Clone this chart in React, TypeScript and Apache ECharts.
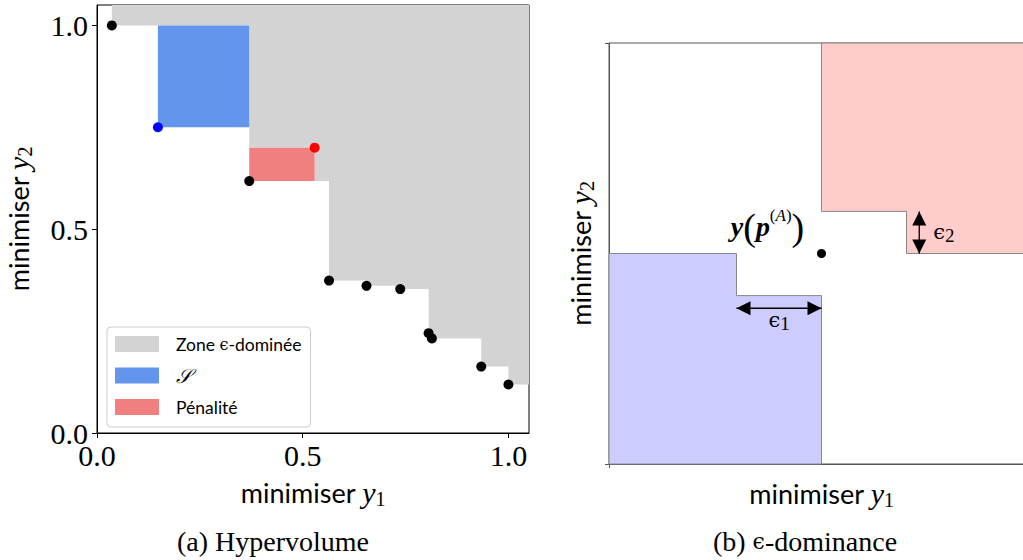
import React, { useEffect, useRef } from 'react';
import * as echarts from 'echarts';

// ---------- (a) Hypervolume ----------
const hvTicks = [0, 0.5, 1.0];
const hvMin = 0;
const hvMax = 1.05;
// corners of the staircase bounding the epsilon-dominated zone
const dominatedCorners: number[][] = [
  [0.036, 1.0], [0.370, 0.700], [0.529, 0.618], [0.564, 0.374], [0.655, 0.361],
  [0.737, 0.353], [0.806, 0.232], [0.934, 0.163], [1.0, 0.119],
];
const frontPoints: number[][] = [
  [0.036, 1.0], [0.370, 0.618], [0.564, 0.374], [0.655, 0.361], [0.737, 0.353],
  [0.806, 0.245], [0.814, 0.232], [0.934, 0.163], [1.0, 0.119],
];
const addedPoint: number[] = [0.148, 0.750];
const penalisedPoint: number[] = [0.529, 0.700];
const contributionRect: number[] = [0.148, 0.750, 0.370, 1.0];
const penaltyRect: number[] = [0.370, 0.618, 0.529, 0.700];
const legendNames = ['Zone ϵ-dominée', '𝒮', 'Pénalité'];

// ---------- (b) epsilon-dominance ----------
const refPoint: number[] = [0.5, 0.5];
const epsDominatedRegion: number[][] = [
  [0.5, 1], [0.5, 0.6], [0.7, 0.6], [0.7, 0.5], [1, 0.5], [1, 1],
];
const epsDominatingRegion: number[][] = [
  [0, 0], [0, 0.5], [0.3, 0.5], [0.3, 0.4], [0.5, 0.4], [0.5, 0],
];
const epsArrows = [
  { name: '1', value: [0.3, 0.37, 0.5, 0.37] },
  { name: '2', value: [0.73, 0.5, 0.73, 0.6] },
];
const edTicks = [0, 1];

const SANS = 'Lato';
const SERIF = 'Liberation Serif';

const nameRich = {
  m: { fontFamily: SANS, fontSize: 27, color: '#000', lineHeight: 34 },
  y: { fontFamily: SERIF, fontStyle: 'italic', fontSize: 30, color: '#000', lineHeight: 34 },
  s: { fontFamily: SERIF, fontSize: 20, color: '#000', verticalAlign: 'bottom', lineHeight: 18 },
};

export default function App() {
  const ref = useRef<HTMLDivElement>(null);
  useEffect(() => {
    const chart = echarts.init(ref.current!, null, { renderer: 'svg' });

    const rectItem = (color: string) => (params: any, api: any) => {
      const p0 = api.coord([api.value(0), api.value(1)]);
      const p1 = api.coord([api.value(2), api.value(3)]);
      return {
        type: 'rect',
        shape: {
          x: Math.min(p0[0], p1[0]), y: Math.min(p0[1], p1[1]),
          width: Math.abs(p1[0] - p0[0]), height: Math.abs(p1[1] - p0[1]),
        },
        style: { fill: color },
      };
    };
    const polyItem = (verts: number[][], fill: string) => (params: any, api: any) => ({
      type: 'polygon',
      shape: { points: verts.map((v) => api.coord(v)) },
      style: { fill, stroke: '#888888', lineWidth: 1 },
    });
    const arrowItem = (params: any, api: any) => {
      const a = api.coord([api.value(0), api.value(1)]);
      const b = api.coord([api.value(2), api.value(3)]);
      const dx = b[0] - a[0];
      const dy = b[1] - a[1];
      const len = Math.hypot(dx, dy);
      const ux = dx / len;
      const uy = dy / len;
      const px = -uy;
      const py = ux;
      const L = 14;
      const W = 7;
      const head = (tip: number[], dir: number) => ({
        type: 'polygon',
        shape: {
          points: [
            tip,
            [tip[0] - dir * ux * L + px * W, tip[1] - dir * uy * L + py * W],
            [tip[0] - dir * ux * L - px * W, tip[1] - dir * uy * L - py * W],
          ],
        },
        style: { fill: '#000' },
      });
      const horizontal = Math.abs(dx) > Math.abs(dy);
      const mx = (a[0] + b[0]) / 2;
      const my = (a[1] + b[1]) / 2;
      const name = epsArrows[params.dataIndex].name;
      return {
        type: 'group',
        children: [
          { type: 'line', shape: { x1: a[0], y1: a[1], x2: b[0], y2: b[1] }, style: { stroke: '#000', lineWidth: 1.3 } },
          head(b, 1),
          head(a, -1),
          {
            type: 'text',
            x: horizontal ? mx : mx + 14,
            y: horizontal ? my + 12 : my,
            style: {
              text: '{e|ϵ}{s|' + name + '}',
              align: horizontal ? 'center' : 'left',
              verticalAlign: 'middle',
              rich: {
                e: { fontFamily: 'DejaVu Serif', fontSize: 21, color: '#000', lineHeight: 26 },
                s: { fontFamily: SERIF, fontSize: 19, color: '#000', verticalAlign: 'bottom', lineHeight: 16 },
              },
            },
          },
        ],
      };
    };

    const option: any = {
      animation: false,
      legend: {
        data: legendNames,
        orient: 'vertical',
        left: 107,
        top: 327,
        icon: 'rect',
        itemWidth: 44,
        itemHeight: 16,
        itemGap: 12.5,
        padding: [8, 9, 11, 8],
        borderColor: '#cccccc',
        borderWidth: 1,
        borderRadius: 4,
        backgroundColor: 'rgba(255,255,255,0.8)',
        selectedMode: false,
        formatter: (n: string) => (n === legendNames[0] ? '{t|Zone }{e|ϵ}{t|-dominée}' : n === legendNames[1] ? '{c|𝒮}' : '{t|' + n + '}'),
        textStyle: {
          padding: [0, 0, 0, 12],
          rich: {
            t: { fontFamily: SANS, fontSize: 17.5, color: '#000' },
            e: { fontFamily: 'DejaVu Serif', fontSize: 16, color: '#000' },
            c: { fontFamily: 'DejaVu Serif', fontStyle: 'italic', fontSize: 20, color: '#000' },
          },
        },
      },
      grid: [
        { left: 97, top: 5, width: 432, height: 428, show: true, borderColor: '#000', borderWidth: 1, outerBoundsMode: 'none', containLabel: false },
        { left: 609, top: 43, width: 425, height: 421, show: true, borderColor: '#555', borderWidth: 1, outerBoundsMode: 'none', containLabel: false },
      ],
      xAxis: [
        {
          gridIndex: 0, type: 'value', min: hvMin, max: hvMax,
          splitLine: { show: false },
          axisLine: { lineStyle: { color: '#000' } },
          axisTick: { customValues: hvTicks, length: 5, lineStyle: { color: '#000' } },
          axisLabel: { customValues: hvTicks, formatter: (v: number) => v.toFixed(1), fontFamily: SERIF, fontSize: 30, lineHeight: 24, color: '#000', margin: 10 },
          name: '{m|minimiser }{y|y}{s|1}', nameLocation: 'middle', nameGap: 42,
          nameTextStyle: { rich: nameRich },
        },
        {
          gridIndex: 1, type: 'value', min: 0, max: 1,
          splitLine: { show: false },
          axisLine: { lineStyle: { color: '#555' } },
          axisTick: { customValues: edTicks, length: 4, lineStyle: { color: '#555' } },
          axisLabel: { show: false },
          name: '{m|minimiser }{y|y}{s|1}', nameLocation: 'middle', nameGap: 12,
          nameTextStyle: { rich: nameRich },
        },
      ],
      yAxis: [
        {
          gridIndex: 0, type: 'value', min: hvMin, max: hvMax,
          splitLine: { show: false },
          axisLine: { lineStyle: { color: '#000' } },
          axisTick: { customValues: hvTicks, length: 5, lineStyle: { color: '#000' } },
          axisLabel: { customValues: hvTicks, formatter: (v: number) => v.toFixed(1), fontFamily: SERIF, fontSize: 30, lineHeight: 24, color: '#000', margin: 9 },
          name: '{m|minimiser }{y|y}{s|2}', nameLocation: 'middle', nameGap: 62,
          nameTextStyle: { rich: nameRich },
        },
        {
          gridIndex: 1, type: 'value', min: 0, max: 1,
          splitLine: { show: false },
          axisLine: { lineStyle: { color: '#555' } },
          axisTick: { customValues: edTicks, length: 4, lineStyle: { color: '#555' } },
          axisLabel: { show: false },
          name: '{m|minimiser }{y|y}{s|2}', nameLocation: 'middle', nameGap: 12,
          nameTextStyle: { rich: nameRich },
        },
      ],
      series: [
        {
          name: legendNames[0], type: 'custom', xAxisIndex: 0, yAxisIndex: 0,
          itemStyle: { color: '#d3d3d3' },
          data: dominatedCorners.map((c) => [c[0], c[1], hvMax, hvMax]),
          renderItem: rectItem('#d3d3d3'),
        },
        {
          name: legendNames[1], type: 'custom', xAxisIndex: 0, yAxisIndex: 0,
          itemStyle: { color: '#6495ed' },
          data: [contributionRect],
          renderItem: rectItem('#6495ed'),
        },
        {
          name: legendNames[2], type: 'custom', xAxisIndex: 0, yAxisIndex: 0,
          itemStyle: { color: '#f08080' },
          data: [penaltyRect],
          renderItem: rectItem('#f08080'),
        },
        {
          type: 'scatter', xAxisIndex: 0, yAxisIndex: 0, symbolSize: 10,
          itemStyle: { color: '#000', opacity: 1 }, data: frontPoints, z: 5,
        },
        {
          type: 'scatter', xAxisIndex: 0, yAxisIndex: 0, symbolSize: 10,
          itemStyle: { color: '#0000ff', opacity: 1 }, data: [addedPoint], z: 5,
        },
        {
          type: 'scatter', xAxisIndex: 0, yAxisIndex: 0, symbolSize: 10,
          itemStyle: { color: '#ff0000', opacity: 1 }, data: [penalisedPoint], z: 5,
        },
        // (b)
        {
          type: 'custom', xAxisIndex: 1, yAxisIndex: 1,
          data: [epsDominatedRegion[0]],
          renderItem: polyItem(epsDominatedRegion, '#ffcccc'),
        },
        {
          type: 'custom', xAxisIndex: 1, yAxisIndex: 1,
          data: [epsDominatingRegion[0]],
          renderItem: polyItem(epsDominatingRegion, '#ccccff'),
        },
        {
          type: 'custom', xAxisIndex: 1, yAxisIndex: 1, z: 6,
          data: epsArrows,
          renderItem: arrowItem,
        },
        {
          type: 'scatter', xAxisIndex: 1, yAxisIndex: 1, symbolSize: 9, z: 6,
          itemStyle: { color: '#000', opacity: 1 }, data: [refPoint],
          label: {
            show: true, position: 'inside', offset: [-54, -27],
            formatter: '{b|y}{p|(}{b|p}{q|(}{a|A}{q|)}{p|)}',
            rich: {
              b: { fontFamily: SERIF, fontStyle: 'italic', fontWeight: 'bold', fontSize: 28, color: '#000', lineHeight: 40 },
              p: { fontFamily: SERIF, fontSize: 38, color: '#000', lineHeight: 40 },
              q: { fontFamily: SERIF, fontSize: 17, color: '#000', verticalAlign: 'top', lineHeight: 30 },
              a: { fontFamily: SERIF, fontStyle: 'italic', fontSize: 17, color: '#000', verticalAlign: 'top', lineHeight: 30 },
            },
          },
        },
      ],
      graphic: [
        {
          type: 'text', x: 273, y: 541,
          style: { text: '(a) Hypervolume', fontFamily: SERIF, fontSize: 28, fill: '#000', align: 'center', verticalAlign: 'middle' },
        },
        {
          type: 'text', x: 805, y: 541,
          style: {
            text: '{t|(b) }{e|ϵ}{t|-dominance}', align: 'center', verticalAlign: 'middle',
            rich: {
              t: { fontFamily: SERIF, fontSize: 28, color: '#000' },
              e: { fontFamily: 'DejaVu Serif', fontSize: 22, color: '#000' },
            },
          },
        },
      ],
    };
    chart.setOption(option);
    return () => chart.dispose();
  }, []);
  return <div ref={ref} style={{ position: 'absolute', left: 0, top: 0, width: 1023, height: 560 }} />;
}
